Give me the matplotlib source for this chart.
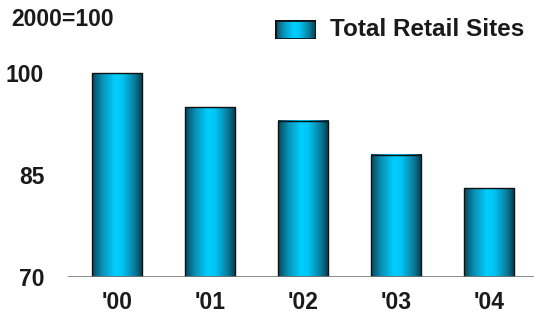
import matplotlib
matplotlib.use("Agg")
import matplotlib.pyplot as plt
import numpy as np
from matplotlib.colors import LinearSegmentedColormap
from matplotlib.patches import Rectangle

categories = ["'00", "'01", "'02", "'03", "'04"]
values = [100, 95, 93, 88, 83]
yticks = [70, 85, 100]
series_name = "Total Retail Sites"
index_note = "2000=100"

plt.rcParams['font.family'] = ['Liberation Sans', 'DejaVu Sans']
plt.rcParams['font.weight'] = 'bold'
txt_color = '#1a1a1a'

cmap = LinearSegmentedColormap.from_list("cyl", [
    (0.0, '#05465a'), (0.2, '#0a90b5'), (0.45, '#00cfff'),
    (0.6, '#00c4f2'), (0.85, '#0a7896'), (1.0, '#04384a')])
grad = np.linspace(0, 1, 256).reshape(1, -1)

fig = plt.figure(figsize=(5.34, 3.27), dpi=100)
ax = fig.add_axes([0.127, 0.154, 0.873, 0.724])

width = 0.54
base = 70
for i, v in enumerate(values):
    x0 = i - width / 2
    ax.imshow(grad, extent=[x0, x0 + width, base, v], aspect='auto',
              cmap=cmap, zorder=2, interpolation='bilinear')
    ax.add_patch(Rectangle((x0, base), width, v - base, fill=False,
                           edgecolor='#111111', linewidth=1.0, zorder=3))

ax.set_xlim(-0.527, 4.48)
ax.set_ylim(70, 104.9)
ax.axhline(70, color='#777777', linewidth=1.2, zorder=4)
for s in ax.spines.values():
    s.set_visible(False)
ax.set_xticks(range(len(categories)))
ax.set_xticklabels(categories, fontsize=16.5, fontweight='bold', color=txt_color)
ax.set_yticks(yticks)
ax.set_yticklabels([str(t) for t in yticks], fontsize=16.5, fontweight='bold', color=txt_color)
ax.tick_params(axis='x', length=0, pad=10)
ax.tick_params(axis='y', length=0, pad=17)

fig.text(11 / 534, 1 - 20 / 327, index_note, fontsize=16.5, fontweight='bold',
         ha='left', va='center', color=txt_color)

# legend
lax = fig.add_axes([275 / 534, 1 - 39 / 327, 41 / 534, 19 / 327])
lax.imshow(grad, extent=[0, 1, 0, 1], aspect='auto', cmap=cmap, interpolation='bilinear')
lax.add_patch(Rectangle((0, 0), 1, 1, fill=False, edgecolor='#111111', linewidth=2.0))
lax.set_xlim(0, 1); lax.set_ylim(0, 1)
lax.axis('off')
fig.text(330 / 534, 1 - 29 / 327, series_name, fontsize=17.5, fontweight='bold',
         ha='left', va='center', color=txt_color)

fig.savefig("out.png", dpi=100)
